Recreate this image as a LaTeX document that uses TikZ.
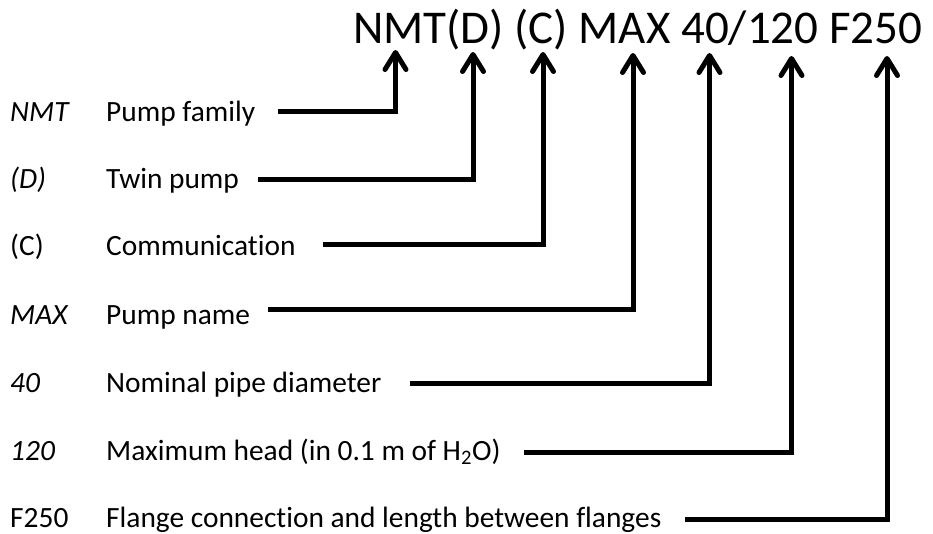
\documentclass[tikz,border=0pt]{standalone}
\usepackage{fontspec}
\setmainfont{Carlito}[Ligatures=NoCommon]
\usetikzlibrary{arrows.meta}
\begin{document}
\begin{tikzpicture}[x=1pt,y=-1pt,
  conn/.style={line width=5pt, line join=miter,
    -{Straight Barb[length=17pt,width=21pt,line cap=round,line join=round]}},
  lbl/.style={anchor=base west, inner sep=0pt, font=\fontsize{29.4}{32}\selectfont},
  title/.style={anchor=base west, inner sep=0pt, font=\fontsize{47}{50}\selectfont}]
\useasboundingbox (0,0) rectangle (933,533);
\node[title] (t) at (353,43) {NMT(D) (C) MAX 40/120 F250};
% labels
\node[lbl] (a1) at (10,121) {\itshape NMT};
\node[lbl] (d1) at (106,121) {Pump family};
\node[lbl] (a2) at (10,188) {\itshape (D)};
\node[lbl] (d2) at (106,188) {Twin pump};
\node[lbl] (a3) at (10,255) {(C)};
\node[lbl] (d3) at (106,255) {Communication};
\node[lbl] (a4) at (10,324) {\itshape MAX};
\node[lbl] (d4) at (106,324) {Pump name};
\node[lbl] (a5) at (10,392) {\itshape 40};
\node[lbl] (d5) at (106,392) {Nominal pipe diameter};
\node[lbl] (a6) at (10,460) {\itshape 120};
\node[lbl] (d6) at (106,460) {Maximum head (in 0.1 m of H\textsubscript{2}O)};
\node[lbl] (a7) at (10,527) {F250};
\node[lbl] (d7) at (106,527) {Flange connection and length between flanges};
% line starts
\coordinate (s1) at (278,111.5);
\coordinate (s2) at (258,179.5);
\coordinate (s3) at (323,244);
\coordinate (s4) at (268,309);
\coordinate (s5) at (410,383.5);
\coordinate (s6) at (524,452);
\coordinate (s7) at (685,519);
% arrow targets under title
\coordinate (e1) at (395.5,50);
\coordinate (e2) at (473,52);
\coordinate (e3) at (543,52);
\coordinate (e4) at (633,53);
\coordinate (e5) at (709.5,53);
\coordinate (e6) at (791.5,56);
\coordinate (e7) at (887,56);
\foreach \i in {1,...,7} \draw[conn] (s\i) -| (e\i);
\end{tikzpicture}
\end{document}
